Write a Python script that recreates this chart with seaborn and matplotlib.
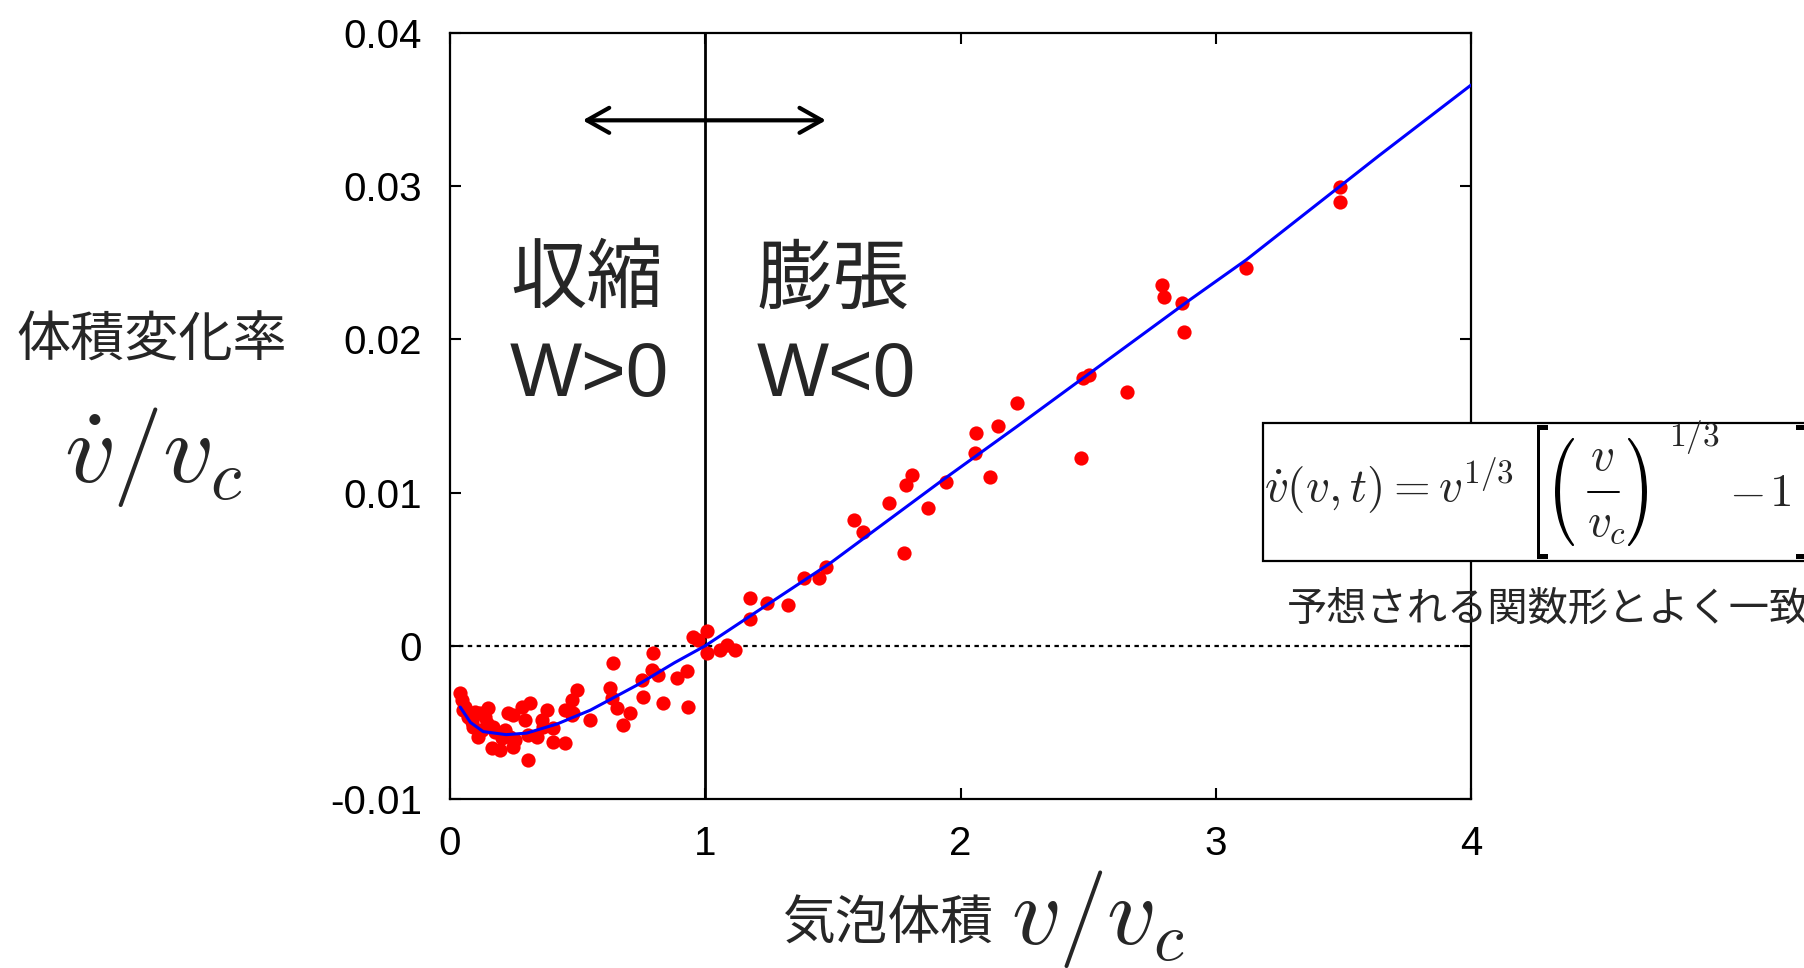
import numpy as np
import pandas as pd
import seaborn as sns
import matplotlib.pyplot as plt
from matplotlib.patches import Rectangle, PathPatch
from matplotlib.lines import Line2D
from matplotlib.textpath import TextPath
from matplotlib.transforms import Affine2D

# ==============================
# data
# ==============================
vol = [0.039, 0.046, 0.052, 0.072, 0.091, 0.111, 0.118, 0.150, 0.144, 0.170,
       0.163, 0.196, 0.215, 0.229, 0.248, 0.248, 0.235, 0.281, 0.313, 0.294,
       0.307, 0.340, 0.307, 0.359, 0.379, 0.405, 0.405, 0.451, 0.451, 0.477,
       0.496, 0.483, 0.548, 0.627, 0.640, 0.633, 0.653, 0.679, 0.705, 0.751,
       0.757, 0.797, 0.790, 0.816, 0.836, 0.888, 0.927, 0.934, 0.953, 0.973,
       1.006, 1.006, 1.058, 1.084, 1.117, 1.175, 1.175,
       0.059, 0.085, 0.124, 0.176, 0.202, 0.255, 0.098, 0.137, 0.366, 0.477,
       1.241, 1.325, 1.387, 1.447, 1.473, 1.583, 1.619, 1.721, 1.779, 1.787,
       1.809, 1.874, 1.943, 2.061, 2.057, 2.116, 2.146, 2.220, 2.474, 2.481,
       2.505, 2.654, 2.788, 2.798, 2.866, 2.876, 3.119, 3.487, 3.487]
rate = [-0.0031, -0.00354, -0.00419, -0.00463, -0.00528, -0.00593, -0.00441, -0.00408, -0.00506, -0.00528,
        -0.00669, -0.0068, -0.0055, -0.00441, -0.00452, -0.00659, -0.00593, -0.00398, -0.00371, -0.00484,
        -0.00582, -0.00593, -0.00746, -0.00484, -0.00419, -0.00539, -0.00626, -0.00636, -0.00419, -0.00354,
        -0.00289, -0.00441, -0.00484, -0.00278, -0.00111, -0.00343, -0.00408, -0.00517, -0.00441, -0.00223,
        -0.00333, -0.00045, -0.00158, -0.00191, -0.00375, -0.00212, -0.00162, -0.00398, 0.0006, 0.00038,
        0.00099, -0.00045, -0.00027, 0.00005, -0.00027, 0.0031, 0.00173,
        -0.00398, -0.00495, -0.0055, -0.00561, -0.00604, -0.00615, -0.0043, -0.00463, -0.00528, -0.00452,
        0.00281, 0.00266, 0.00441, 0.00441, 0.00512, 0.00821, 0.00745, 0.00934, 0.00604, 0.0105,
        0.01115, 0.00898, 0.01071, 0.01387, 0.01256, 0.0110, 0.01437, 0.01583, 0.01224, 0.01746,
        0.01768, 0.01655, 0.02355, 0.02279, 0.0224, 0.0205, 0.02464, 0.02997, 0.02895]

fit_x = [0.04, 0.08, 0.13, 0.22, 0.30, 0.42, 0.55, 0.74, 0.88, 1.0,
         1.19, 1.49, 1.92, 2.22, 2.90, 3.12, 3.64, 4.0]
fit_y = [-0.0040, -0.0050, -0.0056, -0.0058, -0.0057, -0.0051, -0.0042, -0.0025, -0.0011, 0.0,
         0.0021, 0.0054, 0.0107, 0.0143, 0.0226, 0.0252, 0.0320, 0.0366]

xticks = [0, 1, 2, 3, 4]
yticks = [-0.01, 0, 0.01, 0.02, 0.03, 0.04]
ytick_labels = ["-0.01", "0", "0.01", "0.02", "0.03", "0.04"]

pts = pd.DataFrame({"v": vol, "vdot": rate})
fit = pd.DataFrame({"v": fit_x, "vdot": fit_y})

# ==============================
# style
# ==============================
sns.set_style("ticks")
plt.rcParams['font.family'] = ['Liberation Sans', 'Noto Sans CJK JP', 'DejaVu Sans']
plt.rcParams['mathtext.fontset'] = 'cm'

W, H = 1804, 968
fig = plt.figure(figsize=(W / 100, H / 100), dpi=100)
ax = fig.add_axes([450 / W, 1 - 799 / H, 1021 / W, 766 / H])


def px(x, y):
    # pixel position (from top-left) -> figure fraction
    return x / W, 1 - y / H


sns.scatterplot(data=pts, x="v", y="vdot", ax=ax, color="#ff0000",
                s=105, linewidth=0, zorder=3, legend=False)
sns.lineplot(data=fit, x="v", y="vdot", ax=ax, color="#0000ff",
             linewidth=2.2, zorder=4, estimator=None, sort=False)

ax.axhline(0, color="black", lw=1.6, linestyle=(0, (2, 2)), zorder=2)
ax.axvline(1, color="black", lw=2.0, zorder=2)

ax.set_xlim(0, 4)
ax.set_ylim(-0.01, 0.04)
ax.set_xticks(xticks)
ax.set_xticklabels([str(t) for t in xticks])
ax.set_yticks(yticks)
ax.set_yticklabels(ytick_labels)
ax.set_xlabel("")
ax.set_ylabel("")
for s in ax.spines.values():
    s.set_visible(True)
    s.set_linewidth(1.6)
    s.set_color("black")
ax.tick_params(axis="both", direction="in", length=8, width=1.5,
               top=True, right=True, labelsize=29, colors="black")
ax.tick_params(axis="x", pad=19)
ax.tick_params(axis="y", pad=20)

# double arrow
ax.annotate("", xy=(1.473, 0.0343), xytext=(0.52, 0.0343),
            arrowprops=dict(arrowstyle="<->,head_length=0.8,head_width=0.45",
                            lw=3.0, color="black", shrinkA=0, shrinkB=0,
                            mutation_scale=20))

ax.text(0.537, 0.0237, "収縮", fontsize=55, ha="center", va="center")
ax.text(0.545, 0.0176, "W>0", fontsize=55, ha="center", va="center")
ax.text(1.50, 0.0237, "膨張", fontsize=55, ha="center", va="center")
ax.text(1.512, 0.0176, "W<0", fontsize=55, ha="center", va="center")

# axis labels
fig.text(*px(152, 342), "体積変化率", fontsize=39, ha="center", va="center")
fig.text(*px(153, 457), r"$\dot{v}/v_c$", fontsize=72, ha="center", va="center")
fig.text(*px(888, 926), "気泡体積", fontsize=38, ha="center", va="center")
fig.text(*px(1098, 919), r"$v/v_c$", fontsize=70, ha="center", va="center")

# ==============================
# formula box (cut by the right edge, as in the slide)
# ==============================
fig.patches.append(Rectangle(px(1263, 561), 600 / W, 138 / H,
                             transform=fig.transFigure, facecolor="white",
                             edgecolor="black", lw=1.6, zorder=5))


def delim(ch, x0, x1, ytop, ybot):
    # tall thin delimiter, stretched into a pixel box
    tp = TextPath((0, 0), ch, size=40)
    bb = tp.get_extents()
    tr = (Affine2D().translate(-bb.x0, -bb.y0)
          .scale((x1 - x0) / bb.width, (ybot - ytop) / bb.height)
          .translate(x0, H - ybot))
    fig.add_artist(PathPatch(tp, transform=tr, facecolor="black", lw=0, zorder=7))


fs = 34
fig.text(*px(1264, 501), r"$\dot{v}(v,t) = v^{1/3}$", fontsize=fs,
         ha="left", va="baseline", zorder=7)
delim(r"$[$", 1537, 1548, 425, 559)
delim(r"$($", 1555, 1574, 438, 546)
fig.text(*px(1602, 458), r"$v$", fontsize=fs, ha="center", va="center", zorder=7)
fig.add_artist(Line2D([1588 / W, 1619 / W], [1 - 492 / H, 1 - 492 / H],
                      transform=fig.transFigure, color="black", lw=1.4, zorder=7))
fig.text(*px(1607, 524), r"$v_c$", fontsize=fs, ha="center", va="center", zorder=7)
delim(r"$)$", 1628, 1647, 438, 546)
fig.text(*px(1694, 437), r"$1/3$", fontsize=24, ha="center", va="center", zorder=7)
fig.text(*px(1746, 494), r"$-$", fontsize=fs, ha="center", va="center", zorder=7)
fig.text(*px(1780, 494), r"$1$", fontsize=fs, ha="center", va="center", zorder=7)
delim(r"$]$", 1796, 1807, 425, 559)

fig.text(*px(1287, 610), "予想される関数形とよく一致", fontsize=29,
         ha="left", va="center")

fig.savefig("out.png", dpi=100)
